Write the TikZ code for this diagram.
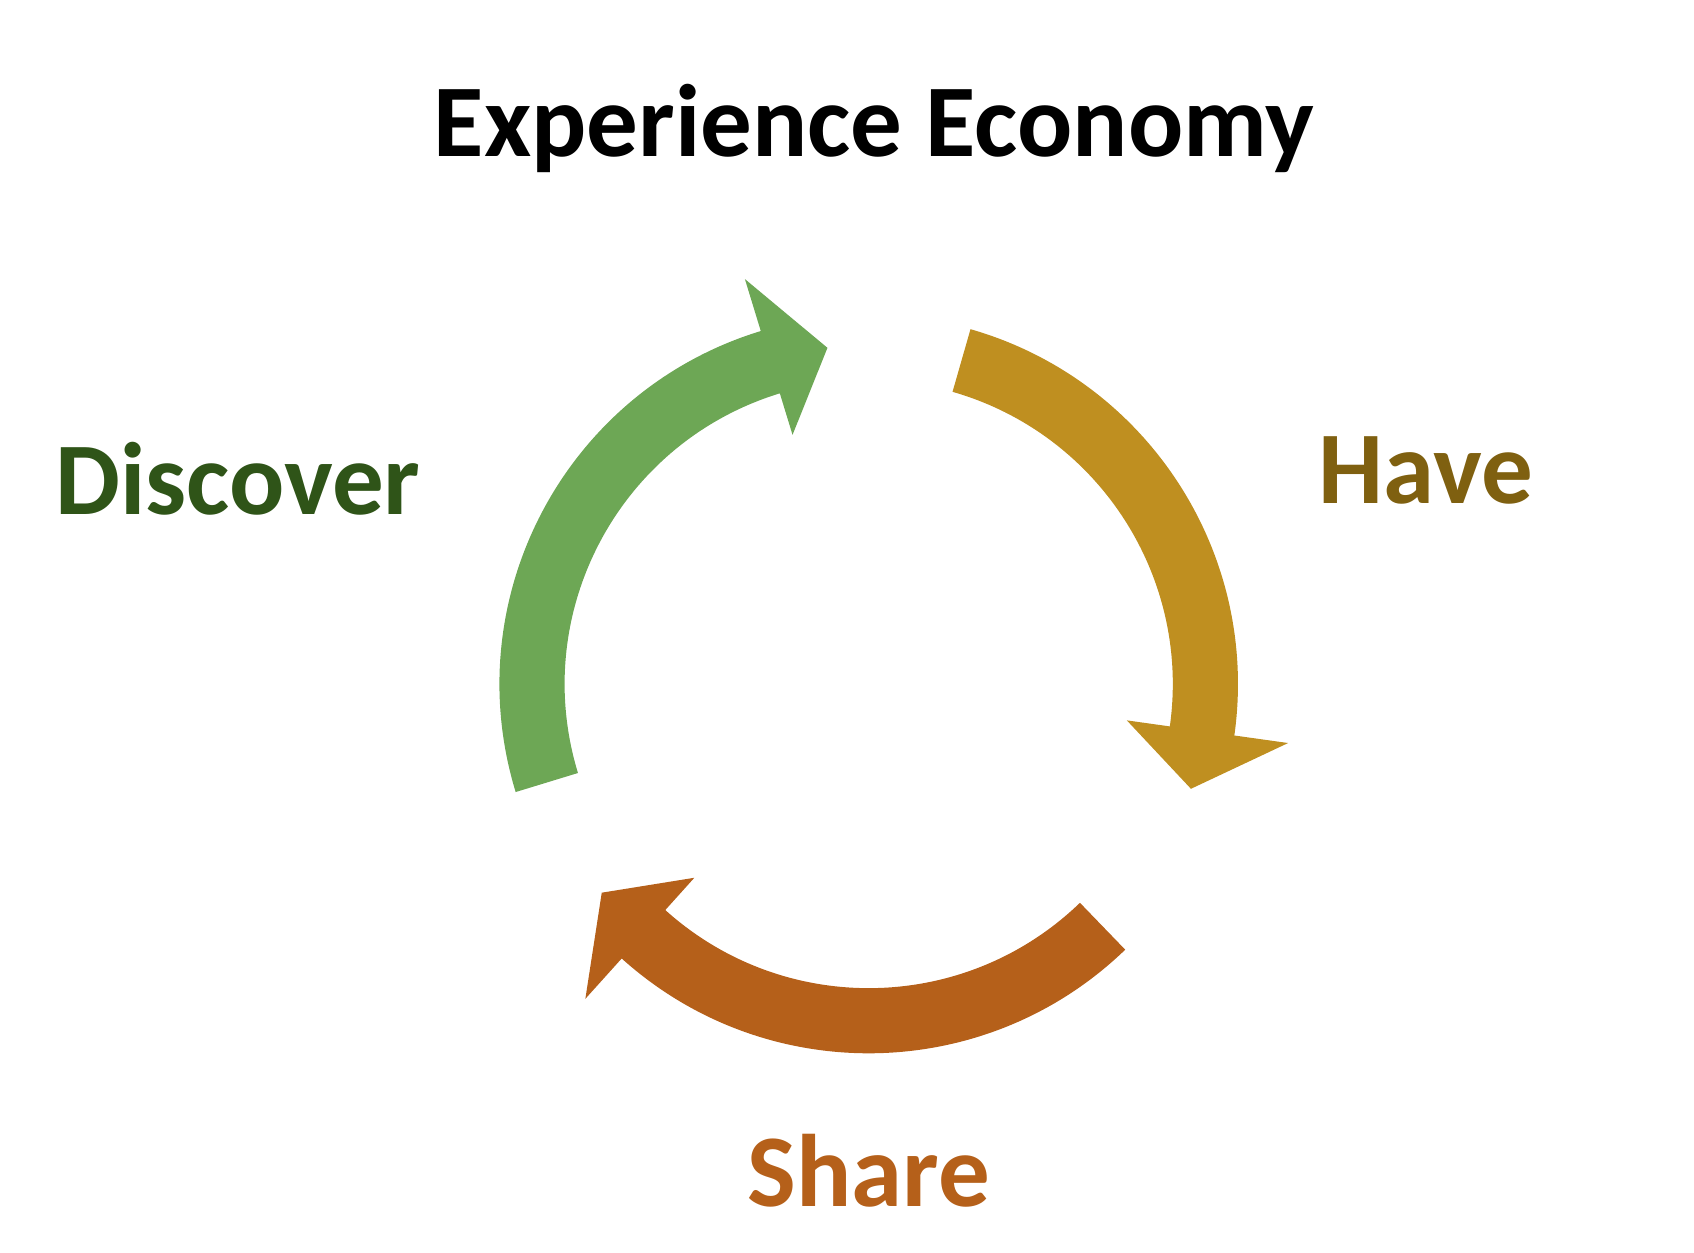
\documentclass[tikz,border=0pt]{standalone}
\usepackage{fontspec}
\setmainfont{Carlito}
\usetikzlibrary{calc}
\definecolor{discovergreen}{HTML}{6DA755}
\definecolor{discovertext}{HTML}{2F5418}
\definecolor{havegold}{HTML}{BF8F20}
\definecolor{havetext}{HTML}{7F6010}
\definecolor{shareorange}{HTML}{B5601A}
\begin{document}
\begin{tikzpicture}[label/.style={font=\bfseries\fontsize{27}{32}\selectfont}]
		\useasboundingbox (0,0) rectangle (15.6,11.53);
		% Kreispfeile (Mitte, Radien)
		\coordinate (c) at (8.0,5.23);
		\fill [discovergreen] ($(c)+(197:3.4)$) arc (197:107:3.4) -- ($(c)+(107:3.9)$) -- ($(c)+(97:3.12)$) -- ($(c)+(107:2.4)$) -- ($(c)+(107:2.8)$) arc (107:197:2.8) -- cycle;
		\fill [havegold] ($(c)+(74:3.4)$) arc (74:-8:3.4) -- ($(c)+(-8:3.9)$) -- ($(c)+(-18:3.12)$) -- ($(c)+(-8:2.4)$) -- ($(c)+(-8:2.8)$) arc (-8:74:2.8) -- cycle;
		\fill [shareorange] ($(c)+(-46:3.4)$) arc (-46:-132:3.4) -- ($(c)+(-132:3.9)$) -- ($(c)+(-142:3.12)$) -- ($(c)+(-132:2.4)$) -- ($(c)+(-132:2.8)$) arc (-132:-46:2.8) -- cycle;
		% Beschriftungen
		\node [label] (title) at (8.05,10.35) {Experience Economy};
		\node [label, text=discovertext] (discover) at (2.19,7.12) {Discover};
		\node [label, text=havetext] (have) at (13.13,7.2) {Have};
		\node [label, text=shareorange] (share) at (8.0,0.75) {Share};
\end{tikzpicture}
\end{document}
